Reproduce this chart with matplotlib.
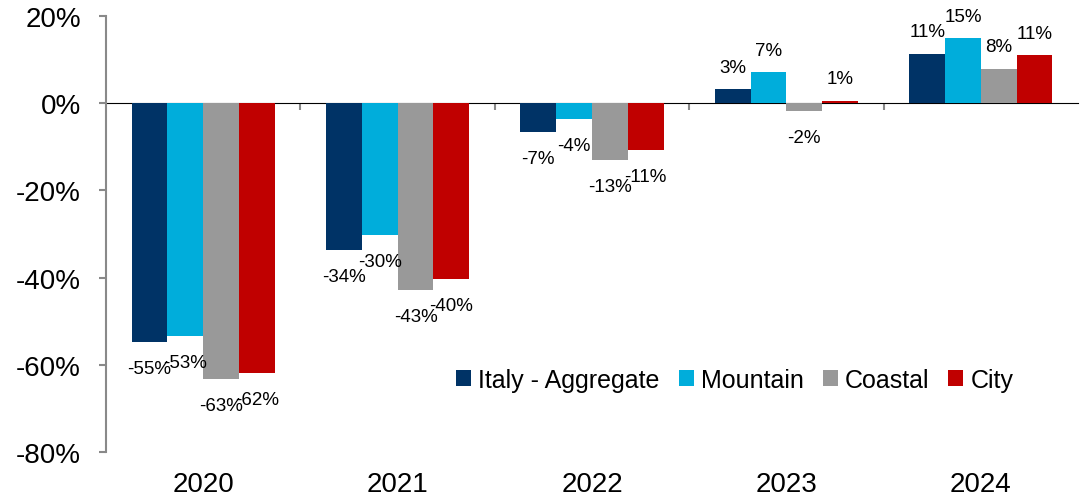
import matplotlib.pyplot as plt
import numpy as np

plt.rcParams['font.family'] = ['Liberation Sans', 'DejaVu Sans']

years = ['2020', '2021', '2022', '2023', '2024']
series = ['Italy - Aggregate', 'Mountain', 'Coastal', 'City']
italy = [-54.8, -33.6, -6.7, 3.2, 11.4]
mountain = [-53.4, -30.3, -3.6, 7.1, 14.9]
coastal = [-63.3, -42.9, -13.1, -1.7, 7.8]
city = [-61.9, -40.4, -10.8, 0.6, 11.0]
colors = ['#003366', '#00ADDB', '#999999', '#C00000']

fig = plt.figure(figsize=(10.84, 5.02), dpi=100)
ax = fig.add_axes([0.0978, 0.0976, 0.8967, 0.8685])

x = np.arange(len(years))
w = 0.184
for i, (vals, name, c) in enumerate(zip([italy, mountain, coastal, city], series, colors)):
    pos = x + (i - 1.5) * w
    ax.bar(pos, vals, width=w, color=c, label=name, zorder=2)
    for px, v in zip(pos, vals):
        off = 16 if v >= 0 else -19
        ax.annotate(f'{round(v)}%', (px, v), xytext=(0, off), textcoords='offset points',
                    ha='center', va='center', fontsize=13.5, color='black', zorder=3)

ax.set_xlim(-0.5, 4.5)
ax.set_ylim(-80, 20)
ax.set_yticks(range(-80, 21, 20))
ax.set_yticklabels([f'{t}%' for t in range(-80, 21, 20)])
ax.set_xticks(x)
ax.set_xticklabels(years)

for s in ['top', 'right', 'bottom']:
    ax.spines[s].set_visible(False)
ax.spines['left'].set_color('#898989')
ax.spines['left'].set_linewidth(1.5)
ax.tick_params(axis='y', direction='out', length=5, width=1.5, color='#898989',
               labelsize=20, pad=13)
ax.tick_params(axis='x', length=0, labelsize=20, pad=14)

# zero line with category separator ticks
sec = ax.secondary_xaxis(0.8)
sec.set_xticks(np.arange(-0.5, 5, 1.0)[1:-1])
sec.set_xticklabels([])
sec.tick_params(direction='in', length=5, width=1.5, color='#898989')
sec.spines['bottom'].set_color('#898989')
sec.spines['bottom'].set_linewidth(1.5)

ax.legend(loc='center', bbox_to_anchor=(0.647, 0.165), ncol=4, frameon=False,
          fontsize=18, handlelength=0.6, handleheight=0.6, handletextpad=0.3,
          columnspacing=0.75)

fig.savefig('out.png', dpi=100)
